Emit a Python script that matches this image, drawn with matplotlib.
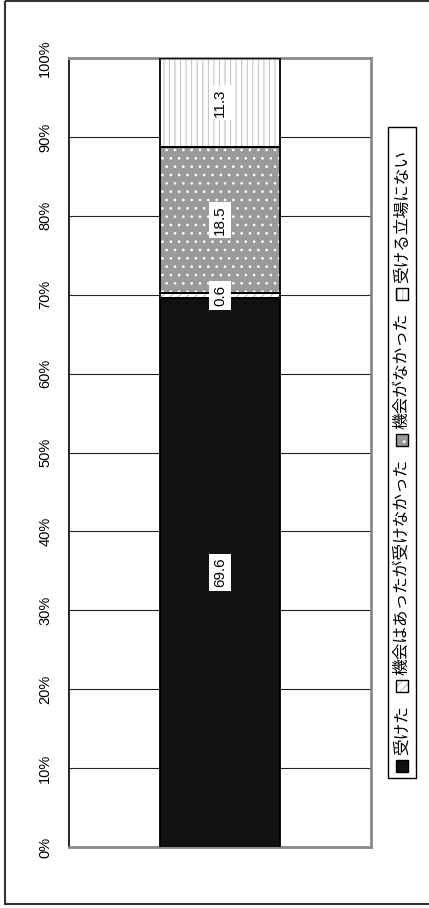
import matplotlib
matplotlib.use('Agg')
import matplotlib.pyplot as plt
from matplotlib.patches import Rectangle

# Survey shares (%) stacked bottom to top
categories = ['受けた', '機会はあったが受けなかった', '機会がなかった', '受ける立場にない']
values = [69.6, 0.6, 18.5, 11.3]
ytick_values = [0, 10, 20, 30, 40, 50, 60, 70, 80, 90, 100]
ytick_labels = [f'{v}%' for v in ytick_values]

# Fill styles per category
face_colors = ['#111111', '#ffffff', '#9a9a9a', '#ffffff']
hatches = [None, '////', '..', '|||']
hatch_colors = ['#111111', '#b5b5b5', '#ffffff', '#bdbdbd']

plt.rcParams['font.family'] = ['Liberation Sans', 'Noto Sans CJK JP', 'DejaVu Sans']
plt.rcParams['hatch.linewidth'] = 0.7

W, H = 429, 908
fig = plt.figure(figsize=(W / 100, H / 100), dpi=100)
fig.patch.set_facecolor('white')

ax = fig.add_axes([69 / W, 61 / H, 302 / W, 789 / H])
ax.set_xlim(-0.5, 0.5)
ax.set_ylim(0, 100)

bottom = 0.0
for val, fc, ht, hc in zip(values, face_colors, hatches, hatch_colors):
    ax.bar(0, val, bottom=bottom, width=0.4, color=fc, edgecolor=hc,
           linewidth=0, hatch=ht, zorder=2)
    ax.bar(0, val, bottom=bottom, width=0.4, fill=False, edgecolor='black',
           linewidth=1.3, zorder=3)
    ax.text(0, bottom + val / 2, f'{val:.1f}', rotation=90, ha='center',
            va='center', fontsize=11, color='black', zorder=4,
            bbox=dict(facecolor='white', edgecolor='none', pad=2.5))
    bottom += val

ax.set_yticks(ytick_values)
ax.set_yticklabels(ytick_labels, rotation=90, va='center', fontsize=10.5)
ax.set_xticks([])
ax.tick_params(axis='y', length=0, pad=12)
ax.grid(axis='y', color='#222222', linewidth=0.8, zorder=1)
ax.set_axisbelow(True)
for side in ['top', 'right', 'bottom']:
    ax.spines[side].set_color('#8a8a8a')
    ax.spines[side].set_linewidth(2)
ax.spines['left'].set_color('black')
ax.spines['left'].set_linewidth(1.2)

# Overlay in pixel units for the outer frame and the vertical legend
ov = fig.add_axes([0, 0, 1, 1])
ov.set_xlim(0, W)
ov.set_ylim(H, 0)
ov.axis('off')
ov.patch.set_alpha(0)

ov.add_patch(Rectangle((5, 1), W, 903, fill=False, edgecolor='#333333', linewidth=1.5))
ov.add_patch(Rectangle((388, 127), 28, 651, fill=False, edgecolor='black', linewidth=1))

renderer = fig.canvas.get_renderer()
y = 772.0
sq = 12
cx = 402
for i, (lab, fc, ht, hc) in enumerate(zip(categories, face_colors, hatches, hatch_colors)):
    ov.add_patch(Rectangle((cx - sq / 2, y - sq), sq, sq, facecolor=fc, edgecolor=hc,
                           linewidth=0, hatch=ht))
    ov.add_patch(Rectangle((cx - sq / 2, y - sq), sq, sq, fill=False,
                           edgecolor='black', linewidth=1))
    y -= sq + 5
    t = ov.text(cx, y, lab, rotation=90, ha='center', va='bottom', fontsize=12,
                family=['Noto Sans CJK JP'])
    ext = t.get_window_extent(renderer)
    y -= ext.height + 13

fig.savefig('out.png', dpi=100, facecolor='white')
